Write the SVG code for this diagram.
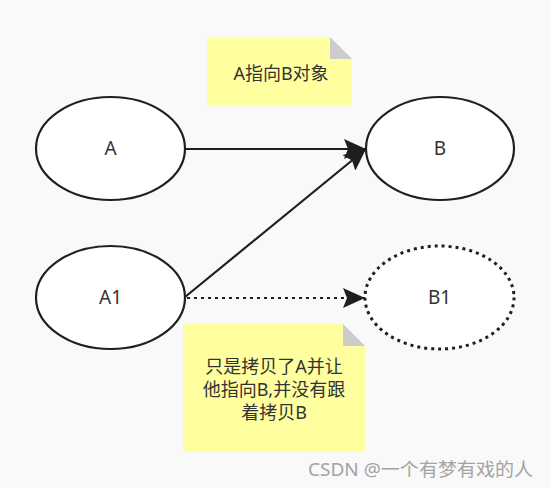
<svg xmlns="http://www.w3.org/2000/svg" width="550" height="488" viewBox="0 0 550 488">
<style>
.bg{fill:#f9f9f9}
.node{fill:#ffffff;stroke:#1f1f1f;stroke-width:2.2}
.dotted{stroke-dasharray:3 4;stroke-width:3}
.lbl{font-family:"Noto Sans","Noto Sans CJK SC",sans-serif;font-size:18px;fill:#333333;text-anchor:middle}
.big{font-size:19px}
.note{fill:#ffff9f}
.fold{fill:#cccccc}
.edge{fill:none;stroke:#1f1f1f;stroke-width:2.2}
.wm{font-family:"Noto Sans","Noto Sans CJK SC",sans-serif;font-size:18px;fill:#a3a3a3}
</style>
<defs>
<marker id="ah" viewBox="0 0 22 20" refX="22" refY="10" markerWidth="22" markerHeight="20" markerUnits="userSpaceOnUse" orient="auto">
<path d="M0,0 L22,10 L0,20 L4,10 Z" fill="#1f1f1f"/>
</marker>
</defs>
<rect class="bg" x="0" y="0" width="550" height="488"/>
<g id="note1">
<path class="note" d="M207,37 L330,37 L352,59 L352,105 L207,105 Z"/>
<path class="fold" d="M330,37 L352,59 L330,59 Z"/>
<text class="lbl" x="281" y="80">A指向B对象</text>
</g>
<g id="note2">
<path class="note" d="M183,324 L343,324 L365,346 L365,452 L183,452 Z"/>
<path class="fold" d="M343,324 L365,346 L343,346 Z"/>
<text class="lbl" x="274" y="373">只是拷贝了A并让</text>
<text class="lbl" x="274" y="396">他指向B,并没有跟</text>
<text class="lbl" x="274" y="419">着拷贝B</text>
</g>
<g id="connectors">
<line class="edge" x1="185" y1="149" x2="366" y2="149" marker-end="url(#ah)"/>
<line class="edge" x1="185" y1="297" x2="366" y2="149" marker-end="url(#ah)"/>
<line class="edge dotted" x1="187" y1="298" x2="365" y2="298" marker-end="url(#ah)"/>
</g>
<g id="nodeA">
<ellipse class="node" cx="110.5" cy="148.5" rx="74.5" ry="51.5"/>
<text class="lbl big" x="110.5" y="155">A</text>
</g>
<g id="nodeB">
<ellipse class="node" cx="440" cy="148.5" rx="74" ry="51.5"/>
<text class="lbl big" x="440" y="155">B</text>
</g>
<g id="nodeA1">
<ellipse class="node" cx="110.5" cy="297.5" rx="74.5" ry="51.5"/>
<text class="lbl big" x="110.5" y="304">A1</text>
</g>
<g id="nodeB1">
<ellipse class="node dotted" cx="439.5" cy="297.5" rx="74.5" ry="51.5"/>
<text class="lbl big" x="439.5" y="304">B1</text>
</g>
<text class="wm" x="308" y="476" textLength="225" lengthAdjust="spacingAndGlyphs">CSDN @一个有梦有戏的人</text>
</svg>
